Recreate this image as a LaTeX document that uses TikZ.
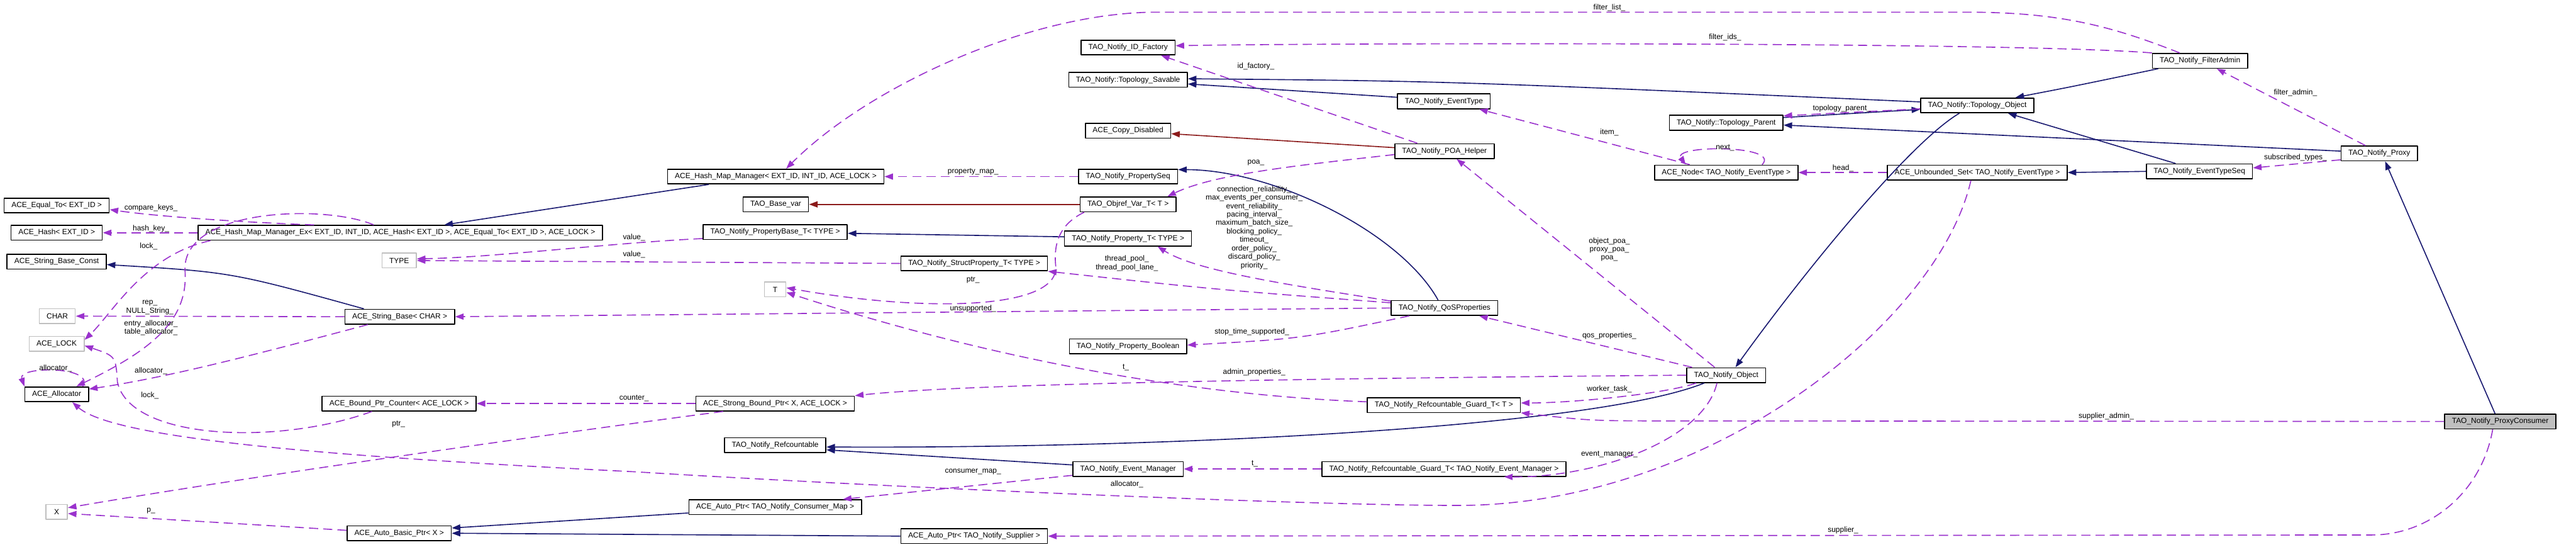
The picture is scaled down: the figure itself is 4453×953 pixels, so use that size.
\documentclass[tikz,border=0pt]{standalone}
\usepackage{fontspec}
\setmainfont{Liberation Sans}
\usetikzlibrary{arrows.meta}
\definecolor{navy}{RGB}{25,25,112}
\definecolor{orchid}{RGB}{154,50,205}
\definecolor{brick}{RGB}{139,26,26}
\definecolor{grey75}{RGB}{191,191,191}
\newcommand{\dfont}{\fontsize{3.7}{4.15}\selectfont}
\tikzset{
  cls/.style={draw=black, line width=0.5pt, fill=white, font=\dfont, inner xsep=3.6pt, inner ysep=0pt, minimum height=2.55mm, minimum width=3.7mm},
  ext/.style={cls, draw=grey75},
  focus/.style={cls, fill=grey75},
  lbl/.style={font=\dfont, inner sep=0pt, align=center},
  headtip/.style={-{Triangle[length=4.2pt,width=3pt]}},
  inh/.style={headtip, draw=navy, line width=0.5pt},
  prot/.style={headtip, draw=brick, line width=0.5pt},
  uses/.style={headtip, draw=orchid, line width=0.5pt, dash pattern=on 4.5pt off 2.5pt},
}
\begin{document}
\begin{tikzpicture}[x=0.01cm, y=-0.01cm, line join=round]
\useasboundingbox (0,0) rectangle (4453,953);
% classes
\node[cls] (idf) at (1950,82) {TAO\_Notify\_ID\_Factory};
\node[cls] (tsav) at (1950,138) {TAO\_Notify::Topology\_Savable};
\node[cls] (cpd) at (1950,226) {ACE\_Copy\_Disabled};
\node[cls] (hmm) at (1341,305) {ACE\_Hash\_Map\_Manager< EXT\_ID, INT\_ID, ACE\_LOCK >};
\node[cls] (pseq) at (1950,305) {TAO\_Notify\_PropertySeq};
\node[cls] (evt) at (2496,175) {TAO\_Notify\_EventType};
\node[cls] (tpar) at (2984,212) {TAO\_Notify::Topology\_Parent};
\node[cls] (poa) at (2497,261) {TAO\_Notify\_POA\_Helper};
\node[cls] (anode) at (2984,298) {ACE\_Node< TAO\_Notify\_EventType >};
\node[cls] (uset) at (3418,298) {ACE\_Unbounded\_Set< TAO\_Notify\_EventType >};
\node[cls] (fadm) at (3803,105) {TAO\_Notify\_FilterAdmin};
\node[cls] (tobj) at (3418,182) {TAO\_Notify::Topology\_Object};
\node[cls] (proxy) at (4113,265) {TAO\_Notify\_Proxy};
\node[cls] (etseq) at (3802,296) {TAO\_Notify\_EventTypeSeq};
\node[cls] (eqto) at (98,355) {ACE\_Equal\_To< EXT\_ID >};
\node[cls] (ahash) at (98,402) {ACE\_Hash< EXT\_ID >};
\node[cls] (hmmex) at (692,402) {ACE\_Hash\_Map\_Manager\_Ex< EXT\_ID, INT\_ID, ACE\_Hash< EXT\_ID >, ACE\_Equal\_To< EXT\_ID >, ACE\_LOCK >};
\node[cls] (sbc) at (98,452) {ACE\_String\_Base\_Const};
\node[ext] (type) at (690,450) {TYPE};
\node[ext] (char) at (99,546) {CHAR};
\node[cls] (sb) at (691,547) {ACE\_String\_Base< CHAR >};
\node[ext] (lock) at (98,594) {ACE\_LOCK};
\node[cls] (bvar) at (1341,353) {TAO\_Base\_var};
\node[cls] (pbase) at (1340,401) {TAO\_Notify\_PropertyBase\_T< TYPE >};
\node[cls] (objref) at (1950,353) {TAO\_Objref\_Var\_T< T >};
\node[cls] (prop) at (1950,412) {TAO\_Notify\_Property\_T< TYPE >};
\node[cls] (sprop) at (1684,455) {TAO\_Notify\_StructProperty\_T< TYPE >};
\node[ext] (t) at (1340,500) {T};
\node[cls] (pbool) at (1950,598) {TAO\_Notify\_Property\_Boolean};
\node[cls] (qos) at (2497,532) {TAO\_Notify\_QoSProperties};
\node[cls] (nobj) at (2984,648) {TAO\_Notify\_Object};
\node[cls] (alloc) at (98,681) {ACE\_Allocator};
\node[cls] (bpc) at (690,697) {ACE\_Bound\_Ptr\_Counter< ACE\_LOCK >};
\node[ext] (x) at (98,884) {X};
\node[cls] (abp) at (690,921) {ACE\_Auto\_Basic\_Ptr< X >};
\node[cls] (sbp) at (1340,697) {ACE\_Strong\_Bound\_Ptr< X, ACE\_LOCK >};
\node[cls] (refc) at (1340,769) {TAO\_Notify\_Refcountable};
\node[cls] (evm) at (1950,810) {TAO\_Notify\_Event\_Manager};
\node[cls] (apcm) at (1340,876) {ACE\_Auto\_Ptr< TAO\_Notify\_Consumer\_Map >};
\node[cls] (apsup) at (1684,926) {ACE\_Auto\_Ptr< TAO\_Notify\_Supplier >};
\node[cls] (gt) at (2496,700) {TAO\_Notify\_Refcountable\_Guard\_T< T >};
\node[cls] (gem) at (2496,810) {TAO\_Notify\_Refcountable\_Guard\_T< TAO\_Notify\_Event\_Manager >};
\node[focus] (pcons) at (4322,728) {TAO\_Notify\_ProxyConsumer};
% public inheritance
\draw[inh] ([xshift=1.1mm]fadm.south west) .. controls (3580,150) .. ([xshift=6.6mm]tobj.north);
\draw[inh] ([yshift=0.6mm]tobj.west) .. controls (2500,140) .. ([yshift=0.2mm]tsav.east);
\draw[inh] ([yshift=0.7mm]evt.west) -- ([yshift=-0.7mm]tsav.east);
\draw[inh] ([yshift=0.9mm]tpar.east) -- ([yshift=-0.7mm]tobj.west);
\draw[inh] ([yshift=0.4mm]proxy.west) -- ([yshift=-0.4mm]tpar.east);
\draw[inh] ([xshift=-3.1mm]tobj.south) .. controls (3300,247) and (3117,472) .. ([xshift=1.6mm]nobj.north);
\draw[inh] ([xshift=-4.1mm]etseq.north) -- ([xshift=5.3mm]tobj.south);
\draw[inh] (etseq.west) -- (uset.east);
\draw[inh] ([xshift=-0.9mm]pcons.north) -- ([xshift=1mm]proxy.south);
\draw[inh] ([xshift=-11.6mm]hmm.south) -- ([xshift=7.6mm]hmmex.north);
\draw[inh] ([xshift=-1.1mm]qos.north) .. controls (2420,400) and (2200,293) .. ([yshift=1.2mm]pseq.east);
\draw[inh] ([yshift=0.3mm]prop.west) -- ([yshift=-0.2mm]pbase.east);
\draw[inh] ([xshift=-6.2mm]sb.north) .. controls (400,470) .. ([yshift=-0.5mm]sbc.east);
\draw[inh] ([yshift=-1mm]apcm.west) -- ([yshift=0.9mm]abp.east);
\draw[inh] (apsup.west) -- (abp.east);
\draw[inh] ([yshift=0.7mm]evm.west) -- ([yshift=-0.8mm]refc.east);
\draw[inh] ([xshift=-3.8mm]nobj.south) .. controls (2750,740) and (2000,775) .. ([yshift=-0.3mm]refc.east);
% protected inheritance
\draw[prot] ([yshift=0.6mm]poa.west) -- ([yshift=-0.5mm]cpd.east);
\draw[prot] (objref.west) -- (bvar.east);
% usage
\draw[uses] ([xshift=-3.5mm]fadm.north) .. controls (3650,45) and (3560,21) .. (3400,21) -- (2000,21) .. controls (1780,21) and (1500,150) .. ([xshift=1.8mm]hmm.north);
\draw[uses] (fadm.north west) .. controls (3480,72) and (2300,74) .. ([yshift=0.3mm]idf.east);
\draw[uses] ([xshift=-4.7mm]poa.north) -- ([xshift=5.7mm]idf.south);
\draw[uses] (pseq.west) -- (hmm.east);
\draw[uses] ([yshift=-0.6mm]poa.west) .. controls (2250,285) and (2100,300) .. ([xshift=6.8mm]objref.north);
\draw[uses] ([yshift=1.2mm]qos.west) .. controls (2250,495) and (2070,470) .. ([xshift=5.1mm]prop.south);
\draw[uses] ([yshift=0.9mm]qos.west) .. controls (2100,500) .. (sprop.south east);
\draw[uses] ([yshift=-1.1mm]pbase.west) .. controls (1050,420) and (850,445) .. ([yshift=0.3mm]type.east);
\draw[uses] (sprop.west) -- (type.east);
\draw[uses] ([xshift=-14.9mm]hmmex.north) .. controls (440,385) and (280,375) .. ([yshift=-0.7mm]eqto.east);
\draw[uses] (hmmex.west) -- (ahash.east);
\draw[uses] ([xshift=-32.8mm]hmmex.south) .. controls (250,440) and (195,540) .. ([yshift=0.7mm]lock.east);
\draw[uses] ([xshift=-4.6mm]hmmex.north) .. controls (560,352) and (310,360) .. (320,470) .. controls (325,560) and (250,610) .. ([xshift=3.4mm]alloc.north);
\draw[uses] (sb.west) -- (char.east);
\draw[uses] (qos.west) -- (sb.east);
\draw[uses] ([xshift=-4.7mm]bpc.south) .. controls (480,770) and (225,760) .. (203,660) .. controls (200,615) .. ([yshift=-0.3mm]lock.east);
\draw[uses] ([xshift=4.5mm]alloc.north) .. controls (165,632) and (30,632) .. (alloc.north west);
\draw[uses] ([xshift=-5.5mm]sb.south) .. controls (450,610) and (300,650) .. ([yshift=0.9mm]alloc.east);
\draw[uses] (sbp.west) -- (bpc.east);
\draw[uses] ([xshift=-9mm]sbp.south) .. controls (950,750) and (450,820) .. ([yshift=0.7mm]x.east);
\draw[uses] ([yshift=0.5mm]abp.west) .. controls (420,905) .. ([yshift=-0.3mm]x.east);
\draw[uses] ([xshift=0.8mm]objref.south west) .. controls (1825,390) and (1822,430) .. (1825,460) .. controls (1830,535) and (1600,540) .. ([yshift=0.3mm]t.east);
\draw[uses] ([yshift=0.6mm]gt.west) .. controls (2000,680) and (1650,600) .. ([yshift=-0.5mm]t.east);
\draw[uses] ([xshift=-6.1mm]qos.south) .. controls (2250,585) .. ([yshift=0.2mm]pbool.east);
\draw[uses] ([xshift=-5.9mm]nobj.north) -- ([xshift=6mm]qos.south);
\draw[uses] ([xshift=-2mm]nobj.north) -- ([xshift=2.1mm]poa.south);
\draw[uses] (nobj.west) .. controls (2100,655) and (1650,665) .. (sbp.north east);
\draw[uses] ([xshift=-5.2mm]nobj.south) .. controls (2880,680) and (2720,696) .. ([yshift=0.4mm]gt.east);
\draw[uses] ([xshift=-1.6mm]nobj.south) .. controls (2945,760) and (2760,825) .. ([xshift=10.4mm]gem.south);
\draw[uses] (pcons.west) -- (2900,727) .. controls (2750,727) .. ([yshift=-1.3mm]gt.east);
\draw[uses] (gem.west) -- (evm.east);
\draw[uses] ([yshift=-1.1mm]evm.west) -- ([xshift=11.7mm]apcm.north);
\draw[uses] ([xshift=-1.3mm]pcons.south) .. controls (4290,850) and (4200,924) .. (4100,924) -- (apsup.east);
\draw[uses] ([xshift=-1.1mm]uset.south) .. controls (3350,560) and (2950,873) .. (2520,873) .. controls (2250,873) and (1500,840) .. (1100,815) .. controls (600,790) and (200,760) .. ([xshift=2.7mm]alloc.south);
\draw[uses] ([yshift=-0.6mm]tobj.west) -- ([yshift=1.2mm]tpar.east);
\draw[uses] ([xshift=-6.3mm]anode.north) -- ([xshift=6.1mm]evt.south);
\draw[uses] ([xshift=6.2mm]anode.north) .. controls (3080,250) and (2890,250) .. ([xshift=-7mm]anode.north);
\draw[uses] (uset.west) -- (anode.east);
\draw[uses] ([yshift=-1.1mm]proxy.west) -- ([yshift=0.6mm]etseq.east);
\draw[uses] ([xshift=-2.4mm]proxy.north) -- ([xshift=2.9mm]fadm.south);
% edge labels
\node[lbl] (lflist) at (2782,13) {filter\_list\_};
\node[lbl] (lfids) at (2982,64) {filter\_ids\_};
\node[lbl] (lidf) at (2171,115) {id\_factory\_};
\node[lbl] (lpmap) at (1682,297) {property\_map\_};
\node[lbl] (lpoa) at (2171,281) {poa\_};
\node[lbl] (lqosp) at (2168,393) {connection\_reliability\_\\max\_events\_per\_consumer\_\\event\_reliability\_\\pacing\_interval\_\\maximum\_batch\_size\_\\blocking\_policy\_\\timeout\_\\order\_policy\_\\discard\_policy\_\\priority\_};
\node[lbl] (ltpool) at (1948,455) {thread\_pool\_\\thread\_pool\_lane\_};
\node[lbl] (lval1) at (1096,410) {value\_};
\node[lbl] (lval2) at (1096,440) {value\_};
\node[lbl] (lcmp) at (261,359) {compare\_keys\_};
\node[lbl] (lhash) at (261,395) {hash\_key\_};
\node[lbl] (llock1) at (257,425) {lock\_};
\node[lbl] (lrep) at (259,531) {rep\_\\NULL\_String\_};
\node[lbl] (lentry) at (261,566) {entry\_allocator\_\\table\_allocator\_};
\node[lbl] (lalloc1) at (96,636) {allocator\_};
\node[lbl] (lalloc2) at (261,641) {allocator\_};
\node[lbl] (llock2) at (259,683) {lock\_};
\node[lbl] (lcnt) at (1096,688) {counter\_};
\node[lbl] (lptr1) at (689,733) {ptr\_};
\node[lbl] (lp) at (261,882) {p\_};
\node[lbl] (lunsup) at (1682,533) {unsupported\_};
\node[lbl] (lptr2) at (1682,484) {ptr\_};
\node[lbl] (lstop) at (2164,573) {stop\_time\_supported\_};
\node[lbl] (lt1) at (1946,635) {t\_};
\node[lbl] (ladmp) at (2168,643) {admin\_properties\_};
\node[lbl] (lcmap) at (1682,815) {consumer\_map\_};
\node[lbl] (lt2) at (2169,801) {t\_};
\node[lbl] (lalloc3) at (1948,836) {allocator\_};
\node[lbl] (lqos) at (2782,580) {qos\_properties\_};
\node[lbl] (lopoa) at (2782,431) {object\_poa\_\\proxy\_poa\_\\poa\_};
\node[lbl] (lwork) at (2782,672) {worker\_task\_};
\node[lbl] (levm) at (2782,785) {event\_manager\_};
\node[lbl] (lsadm) at (3641,719) {supplier\_admin\_};
\node[lbl] (lsup) at (3186,916) {supplier\_};
\node[lbl] (litem) at (2782,229) {item\_};
\node[lbl] (lnext) at (2982,255) {next\_};
\node[lbl] (lhead) at (3186,291) {head\_};
\node[lbl] (ltpar) at (3184,187) {topology\_parent\_};
\node[lbl] (lsubs) at (3968,272) {subscribed\_types\_};
\node[lbl] (lfadm) at (3968,160) {filter\_admin\_};
\end{tikzpicture}
\end{document}
